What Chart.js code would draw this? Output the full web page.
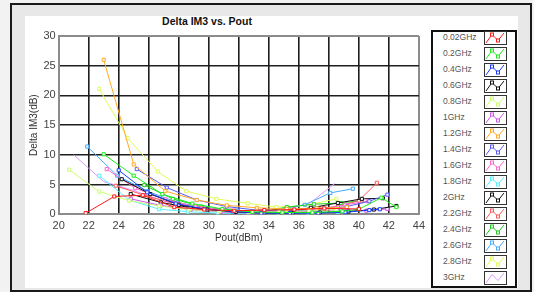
<!DOCTYPE html>
<html><head><meta charset="utf-8">
<script src="https://cdn.jsdelivr.net/npm/chart.js@4.4.1/dist/chart.umd.min.js"></script>
<style>
html,body{margin:0;padding:0;}
body{width:534px;height:292px;background:#f2f2f2;position:relative;overflow:hidden;font-family:"Liberation Sans",Arial,sans-serif;}
#frame{position:absolute;left:10px;top:3px;width:518px;height:285px;border:2px solid #1a1a1a;background:#e8e8e8;}
#panel{position:absolute;left:25px;top:16px;width:493px;height:272px;background:#fff;}
#title{position:absolute;left:107px;width:200px;top:15px;text-align:center;font-weight:bold;font-size:10.5px;color:#111;}
#chart{position:absolute;left:25px;top:16px;}
#legend{position:absolute;left:431px;top:30px;width:82px;height:254px;border:2px solid #111;background:#fff;}
.item{position:absolute;left:0;width:82px;height:14px;}
.item span{position:absolute;left:10px;top:1px;font-size:8.5px;color:#555;white-space:nowrap;}
.item svg{position:absolute;left:51px;top:0;}
</style></head>
<body>
<div id="frame"></div>
<div id="panel"></div>
<div id="title">Delta IM3 vs. Pout</div>
<canvas id="chart" width="405" height="240"></canvas>
<div id="legend"></div>
<script>
const seriesNames = ['0.02GHz','0.2GHz','0.4GHz','0.6GHz','0.8GHz','1GHz','1.2GHz','1.4GHz','1.6GHz','1.8GHz','2GHz','2.2GHz','2.4GHz','2.6GHz','2.8GHz','3GHz'];
const seriesColors = ['#ff1a1a','#1aee1a','#1a3cff','#111111','#c8ff70','#cc55ee','#ffaa22','#5a5aff','#ff66cc','#55f0ff','#111111','#ff5a5a','#22cc22','#44aaff','#ddff55','#dd99ff'];
const xTicks = [20,22,24,26,28,30,32,34,36,38,40,42,44];
const yTicks = [0,5,10,15,20,25,30];

const pout_0p02 = [21.8, 23.7, 25.6, 27.7, 29.7, 31.7, 33.7, 35.7, 37.7, 40.0];
const dim3_0p02 = [0.2, 3.0, 3.2, 1.2, 0.8, 0.6, 0.7, 0.8, 1.0, 0.9];
const pout_0p2 = [23.0, 25.0, 26.9, 28.9, 30.9, 32.9, 34.9, 36.9, 38.9, 40.0, 41.5, 42.5];
const dim3_0p2 = [10.1, 6.5, 3.4, 1.8, 0.9, 0.4, 0.3, 0.3, 0.5, 0.85, 2.8, 1.2];
const pout_0p4 = [24.0, 25.9, 27.8, 29.7, 31.6, 33.5, 35.4, 37.3, 39.1, 40.7, 41.4];
const dim3_0p4 = [7.4, 3.7, 1.8, 0.9, 0.5, 0.2, 0.2, 0.2, 0.35, 0.7, 0.85];
const pout_0p6 = [24.2, 26.1, 28.0, 29.9, 31.8, 33.7, 35.6, 37.4, 39.3, 41.0, 42.5];
const dim3_0p6 = [5.9, 3.4, 1.6, 0.8, 0.4, 0.2, 0.2, 0.3, 0.45, 0.8, 1.4];
const pout_0p8 = [20.7, 22.7, 24.7, 26.7, 28.7, 30.7, 32.7, 34.7, 36.7, 38.5];
const dim3_0p8 = [7.5, 3.8, 2.3, 1.4, 0.8, 0.5, 0.4, 0.4, 0.6, 0.8];
const pout_1 = [24.8, 26.8, 28.8, 30.8, 32.8, 34.8, 36.8, 38.8, 40.5, 41.9];
const dim3_1 = [2.6, 1.5, 0.8, 0.4, 0.2, 0.3, 0.5, 0.8, 0.6, 0.9];
const pout_1p2 = [23.0, 25.0, 27.1, 29.2, 31.2, 33.2, 35.2, 37.2, 39.2];
const dim3_1p2 = [26.0, 8.4, 3.9, 2.4, 1.5, 1.1, 0.9, 1.0, 1.2];
const pout_1p4 = [25.2, 27.2, 29.2, 31.2, 33.2, 35.2, 37.2, 39.2, 40.7, 41.9];
const dim3_1p4 = [7.6, 4.5, 2.4, 1.3, 0.7, 0.5, 0.7, 1.3, 2.2, 3.3];
const pout_1p6 = [23.2, 25.1, 27.1, 29.1, 31.1, 33.1, 35.1, 37.1, 39.1, 40.6];
const dim3_1p6 = [7.6, 4.4, 2.5, 1.3, 0.7, 0.4, 0.4, 0.8, 1.6, 2.2];
const pout_1p8 = [22.7, 24.7, 26.7, 28.6, 30.6, 32.6, 34.6, 36.6, 38.6];
const dim3_1p8 = [6.5, 2.4, 0.85, 0.45, 0.2, 0.1, 0.1, 0.2, 0.4];
const pout_2 = [24.8, 26.8, 28.8, 30.8, 32.8, 34.8, 36.8, 38.6, 40.2, 41.6];
const dim3_2 = [3.4, 2.0, 1.1, 0.6, 0.3, 0.3, 1.1, 1.9, 2.6, 2.7];
const pout_2p2 = [23.8, 25.7, 27.6, 29.5, 31.5, 33.5, 35.5, 37.5, 38.6, 40.0, 41.2];
const dim3_2p2 = [4.8, 3.2, 1.9, 1.0, 0.6, 0.5, 0.6, 1.0, 1.3, 2.3, 5.3];
const pout_2p4 = [25.7, 27.6, 29.5, 31.4, 33.3, 35.2, 37.0, 38.8, 40.2];
const dim3_2p4 = [4.9, 2.6, 1.3, 0.6, 0.3, 1.2, 1.7, 1.9, 2.3];
const pout_2p6 = [21.9, 23.9, 25.9, 27.9, 29.9, 31.9, 33.9, 36.4, 38.1, 39.6];
const dim3_2p6 = [11.4, 6.5, 3.9, 2.0, 1.0, 0.6, 0.5, 1.6, 3.6, 4.3];
const pout_2p8 = [22.7, 24.6, 26.6, 28.5, 30.5, 32.6, 34.5, 36.5, 38.5];
const dim3_2p8 = [21.1, 12.8, 7.2, 3.9, 2.6, 1.85, 1.2, 1.5, 2.6];
const pout_3 = [21.0, 23.0, 25.0, 27.0, 29.0, 31.0, 33.0, 35.0, 36.8, 38.4];
const dim3_3 = [10.0, 5.5, 4.0, 2.2, 1.0, 0.5, 0.4, 0.6, 2.0, 5.2];

const seriesX = [pout_0p02,pout_0p2,pout_0p4,pout_0p6,pout_0p8,pout_1,pout_1p2,pout_1p4,pout_1p6,pout_1p8,pout_2,pout_2p2,pout_2p4,pout_2p6,pout_2p8,pout_3];
const seriesY = [dim3_0p02,dim3_0p2,dim3_0p4,dim3_0p6,dim3_0p8,dim3_1,dim3_1p2,dim3_1p4,dim3_1p6,dim3_1p8,dim3_2,dim3_2p2,dim3_2p4,dim3_2p6,dim3_2p8,dim3_3];
const noMarker = ['3GHz'];

const datasets = seriesNames.map((name, i) => ({
  label: name,
  data: seriesX[i].map((x, j) => ({x: x, y: seriesY[i][j]})),
  showLine: true,
  borderColor: seriesColors[i],
  backgroundColor: '#ffffff',
  borderWidth: 1,
  pointStyle: 'rect',
  pointRadius: noMarker.includes(name) ? 0 : 2.2,
  pointBorderWidth: 1,
  pointBorderColor: seriesColors[i],
  pointBackgroundColor: '#ffffff',
  tension: 0
}));

const isEdge = (c, a, b) => c.tick && (c.tick.value === a || c.tick.value === b);
const tickFont = {family: '"Liberation Sans", Arial, sans-serif', size: 11};

new Chart(document.getElementById('chart'), {
  type: 'scatter',
  data: {datasets: datasets},
  options: {
    responsive: false,
    animation: false,
    devicePixelRatio: 1,
    layout: {padding: {left: 0, right: 8.5, top: 20, bottom: 1.7}},
    plugins: {legend: {display: false}, tooltip: {enabled: false}, title: {display: false}},
    scales: {
      x: {
        type: 'linear', min: 20, max: 44,
        afterBuildTicks: (s) => { s.ticks = xTicks.map(v => ({value: v})); },
        afterFit: (s) => { s.height = 40; },
        ticks: {font: tickFont, color: '#444', padding: 5, maxRotation: 0, autoSkip: false},
        grid: {color: (c) => isEdge(c, 20, 44) ? '#8c8c8c' : '#1e1e1e', lineWidth: (c) => isEdge(c, 20, 44) ? 2 : 1.6, drawTicks: false},
        border: {display: true, color: '#8c8c8c', width: 2},
        title: {display: true, text: 'Pout(dBm)', font: {family: '"Liberation Sans", Arial, sans-serif', size: 10}, color: '#333', padding: {top: 0, bottom: 10.3}}
      },
      y: {
        type: 'linear', min: 0, max: 30,
        afterBuildTicks: (s) => { s.ticks = yTicks.map(v => ({value: v})); },
        afterFit: (s) => { s.width = 33.7; },
        ticks: {font: tickFont, color: '#444', padding: 3},
        grid: {color: (c) => isEdge(c, 0, 30) ? '#8c8c8c' : '#1e1e1e', lineWidth: (c) => isEdge(c, 0, 30) ? 2 : 1.6, drawTicks: false},
        border: {display: true, color: '#8c8c8c', width: 2},
        title: {display: true, text: 'Delta IM3(dB)', font: {family: '"Liberation Sans", Arial, sans-serif', size: 10}, color: '#333', padding: {top: 3, bottom: 0}}
      }
    }
  }
});

// HTML legend
const legend = document.getElementById('legend');
seriesNames.forEach((name, i) => {
  const d = document.createElement('div');
  d.className = 'item';
  d.style.top = (-1.5 + i * 16.0) + 'px';
  const col = seriesColors[i];
  const markers = noMarker.includes(name) ? '' :
    `<rect x="6.5" y="2" width="3" height="3" fill="#fff" stroke="${col}" stroke-width="1"/>` +
    `<rect x="12.5" y="8" width="3" height="3" fill="#fff" stroke="${col}" stroke-width="1"/>`;
  d.innerHTML = `<span>${name}</span><svg width="23" height="14" viewBox="0 0 23 14">` +
    `<rect x="0.5" y="0.5" width="22" height="13" fill="#fff" stroke="#333" stroke-width="1"/>` +
    `<polyline points="2,12 8,3.5 14,9.5 20,2" fill="none" stroke="${col}" stroke-width="1"/>` +
    markers + `</svg>`;
  legend.appendChild(d);
});
</script>
</body></html>
